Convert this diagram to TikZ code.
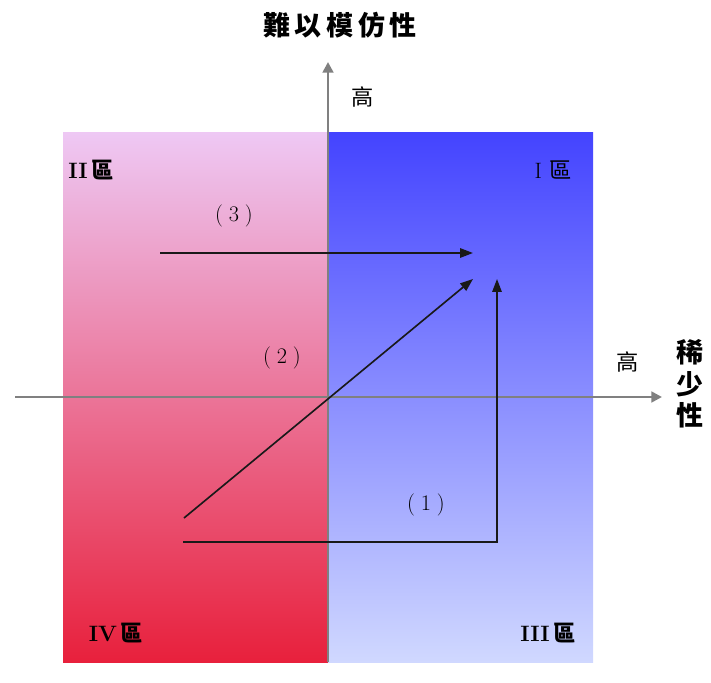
\documentclass[tikz,border=0pt]{standalone}
\usepackage{fontspec}
\usepackage{tikz}
\usetikzlibrary{arrows.meta}
\newfontfamily\cjk{Noto Sans CJK TC}
\definecolor{lefttop}{RGB}{238,200,244}
\definecolor{leftbot}{RGB}{232,32,60}
\definecolor{righttop}{RGB}{68,68,255}
\definecolor{rightbot}{RGB}{208,216,255}
\definecolor{axisgray}{RGB}{128,128,128}
\tikzset{
  axisline/.style={draw=axisgray, line width=2.4pt, -{Triangle[length=9pt,width=9pt]}},
  moveline/.style={draw=black!90, line width=1.4pt},
  movearrow/.style={moveline, -{Triangle[length=11pt,width=8pt]}},
  quadlabel/.style={font=\fontsize{19}{19}\selectfont, inner sep=0pt},
  steplabel/.style={font=\fontsize{19}{19}\selectfont, inner sep=0pt},
  highlabel/.style={font=\cjk\fontsize{19}{19}\selectfont, inner sep=0pt},
  axistitle/.style={font=\cjk\bfseries\fontsize{23}{23}\selectfont, inner sep=0pt}
}
\begin{document}
\begin{tikzpicture}[x=0.03cm, y=-0.03cm]
  \useasboundingbox (0,0) rectangle (711,683);
  % panel bounds (pixel units)
  \def\pl{63}  \def\pm{328}  \def\pr{593}
  \def\pt{133} \def\pb{662}
  % left half: lavender to red
  \shade[top color=lefttop, bottom color=leftbot] (\pl,\pt) rectangle (\pm,\pb);
  % right half: blue to pale blue
  \shade[top color=righttop, bottom color=rightbot] (\pm,\pt) rectangle (\pr,\pb);
  % axes
  \coordinate (xstart) at (15,397);
  \coordinate (xend) at (662,397);
  \coordinate (ystart) at (328,662);
  \coordinate (yend) at (328,62);
  \draw[axisline] (xstart) -- (xend);
  \draw[axisline] (ystart) -- (yend);
  % moves between quadrants
  \coordinate (s1) at (183,542);
  \coordinate (c1) at (497,542);
  \coordinate (e1) at (497,279);
  \coordinate (s2) at (184,518);
  \coordinate (e2) at (473,279);
  \coordinate (s3) at (160,253);
  \coordinate (e3) at (473,253);
  \draw[movearrow] (s1) -- (c1) -- (e1);
  \draw[movearrow] (s2) -- (e2);
  \draw[movearrow] (s3) -- (e3);
  \node[steplabel] (lab1) at (426,505) {(\hspace{5pt}1\hspace{5pt})};
  \node[steplabel] (lab2) at (282,358) {(\hspace{5pt}2\hspace{5pt})};
  \node[steplabel] (lab3) at (234,216) {(\hspace{5pt}3\hspace{5pt})};
  % quadrant names
  \node[quadlabel] (q2) at (91,170) {\textbf{II}\,{\cjk\bfseries 區}};
  \node[quadlabel] (q1) at (553,170) {I\,\,{\cjk 區}};
  \node[quadlabel] (q4) at (116,633) {\textbf{IV}\,{\cjk\bfseries 區}};
  \node[quadlabel] (q3) at (548,633) {\textbf{III}\,{\cjk\bfseries 區}};
  % axis titles
  \node[axistitle] (ytitle) at (340,25) {難\hspace{4pt}以\hspace{4pt}模\hspace{4pt}仿\hspace{4pt}性};
  \node[highlabel] (yhigh) at (363,97) {高};
  \node[highlabel] (xhigh) at (628,362) {高};
  \node[axistitle, align=center] (xtitle) at (690,384) {稀\\[4pt]少\\[4pt]性};
\end{tikzpicture}
\end{document}
